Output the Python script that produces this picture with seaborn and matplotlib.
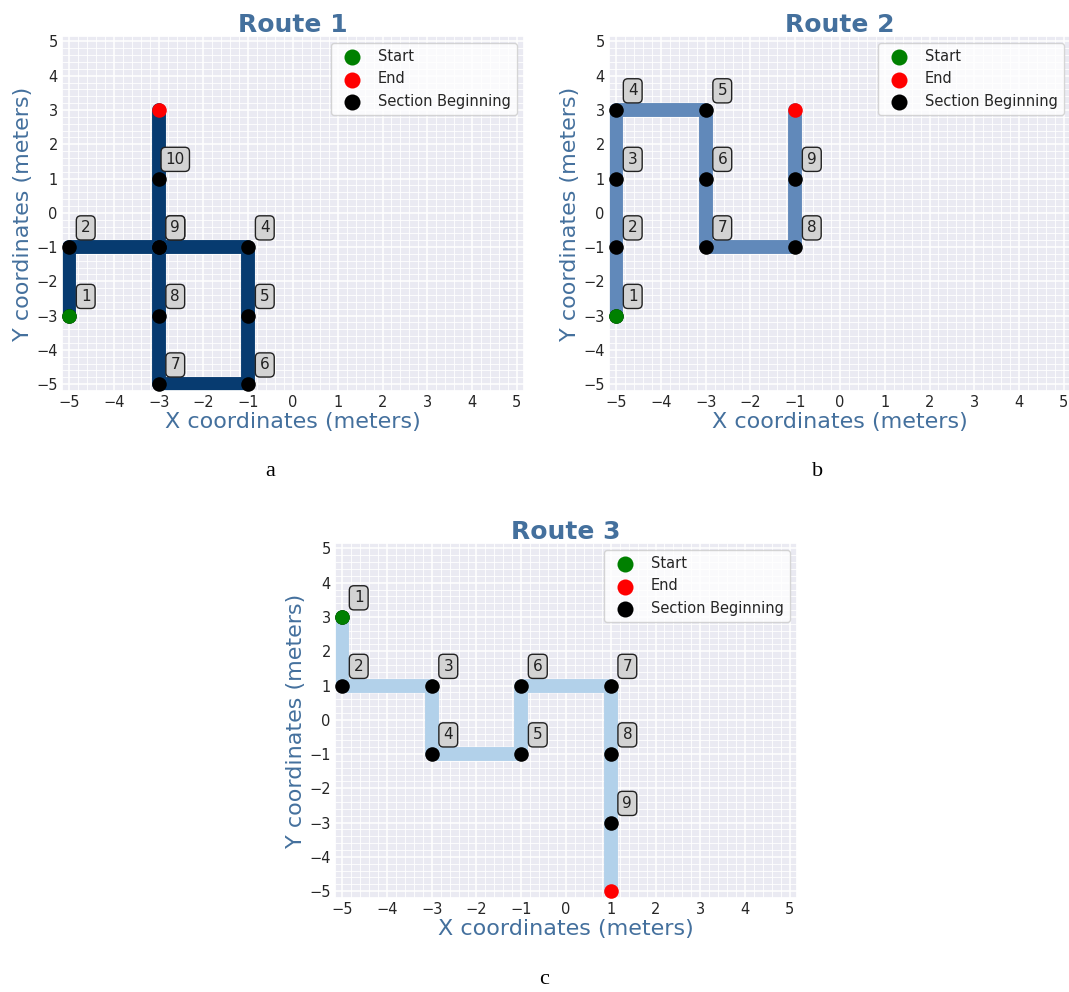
import matplotlib
matplotlib.use("Agg")
import matplotlib.pyplot as plt
import matplotlib.patheffects as pe
from matplotlib.ticker import MultipleLocator
import seaborn as sns

# Waypoints of each route (metres); every consecutive pair is one section
route1_x = [-5, -5, -3, -1, -1, -1, -3, -3, -3, -3, -3]
route1_y = [-3, -1, -1, -1, -3, -5, -5, -3, -1, 1, 3]
route2_x = [-5, -5, -5, -5, -3, -3, -3, -1, -1, -1]
route2_y = [-3, -1, 1, 3, 3, 1, -1, -1, 1, 3]
route3_x = [-5, -5, -3, -3, -1, -1, 1, 1, 1, 1]
route3_y = [3, 1, 1, -1, -1, 1, 1, -1, -3, -5]

route_titles = ["Route 1", "Route 2", "Route 3"]
route_colors = ["#073b70", "#6189ba", "#b2d1ea"]
panel_letters = ["a", "b", "c"]
axis_ticks = [-5, -4, -3, -2, -1, 0, 1, 2, 3, 4, 5]

sns.set_theme(style="darkgrid")
plt.rcParams["font.family"] = ["DejaVu Sans"]

W, H = 1069, 992
fig = plt.figure(figsize=(W / 100, H / 100), dpi=100)

accent = "#44709d"


def px_axes(left, top, right, bottom):
    return fig.add_axes([left / W, 1 - bottom / H, (right - left) / W, (bottom - top) / H])


axes_boxes = [
    (62, 36, 524, 391),
    (609, 36, 1071, 391),
    (335, 543, 797, 898),
]
letter_pos = [(270, 472), (818, 472), (544, 980)]

routes = [(route1_x, route1_y), (route2_x, route2_y), (route3_x, route3_y)]

for (xs, ys), title, color, box, letter, lpos in zip(
    routes, route_titles, route_colors, axes_boxes, panel_letters, letter_pos
):
    ax = px_axes(*box)

    # route path
    sns.lineplot(x=xs, y=ys, sort=False, estimator=None, color=color,
                 linewidth=10, ax=ax, legend=False, zorder=2)
    path_line = ax.lines[-1]
    path_line.set_solid_capstyle("round")
    path_line.set_solid_joinstyle("round")
    path_line.set_path_effects([
        pe.Stroke(linewidth=11.2, foreground="white", alpha=0.55),
        pe.Normal(),
    ])

    # section starts, start and end points
    sec_x, sec_y = xs[:-1], ys[:-1]
    sns.scatterplot(x=sec_x, y=sec_y, color="black", s=110, linewidth=0,
                    ax=ax, zorder=4, label="Section Beginning")
    sns.scatterplot(x=[xs[0]], y=[ys[0]], color="green", s=110, linewidth=0,
                    ax=ax, zorder=5, label="Start")
    sns.scatterplot(x=[xs[-1]], y=[ys[-1]], color="red", s=110, linewidth=0,
                    ax=ax, zorder=5, label="End")

    # numbered section tags
    for i, (sx, sy) in enumerate(zip(sec_x, sec_y), start=1):
        ax.text(sx + 0.37, sy + 0.56, str(i), fontsize=11, ha="center",
                va="center", color="#222222", zorder=6,
                bbox=dict(boxstyle="round,pad=0.3", facecolor="lightgray",
                          edgecolor="#222222", linewidth=1.0))

    ax.set_xlim(-5.16, 5.16)
    ax.set_ylim(-5.2, 5.16)
    ax.set_xticks(axis_ticks)
    ax.set_yticks(axis_ticks)
    ax.xaxis.set_minor_locator(MultipleLocator(0.2))
    ax.yaxis.set_minor_locator(MultipleLocator(0.2))
    ax.grid(which="major", color="white", linewidth=1.1)
    ax.grid(which="minor", color="white", linewidth=0.6)
    ax.tick_params(which="both", length=0, labelsize=10.5, colors="#262626")
    ax.tick_params(axis="x", pad=3)
    ax.tick_params(axis="y", pad=3)

    ax.set_title(title, fontsize=18, fontweight="bold", color=accent, pad=3)
    ax.set_xlabel("X coordinates (meters)", fontsize=16, color=accent, labelpad=1)
    ax.set_ylabel("Y coordinates (meters)", fontsize=16, color=accent, labelpad=2)

    handles, labels = ax.get_legend_handles_labels()
    order = [labels.index(n) for n in ["Start", "End", "Section Beginning"]]
    ax.legend([handles[k] for k in order], [labels[k] for k in order],
              loc="upper right", fontsize=10.5, frameon=True, markerscale=1.1,
              facecolor="white", framealpha=0.8, edgecolor="0.8")

    fig.text(lpos[0] / W, 1 - lpos[1] / H, letter, ha="center", va="center",
             fontsize=16, family="Liberation Serif", color="black")

fig.savefig("out.png", dpi=100)
